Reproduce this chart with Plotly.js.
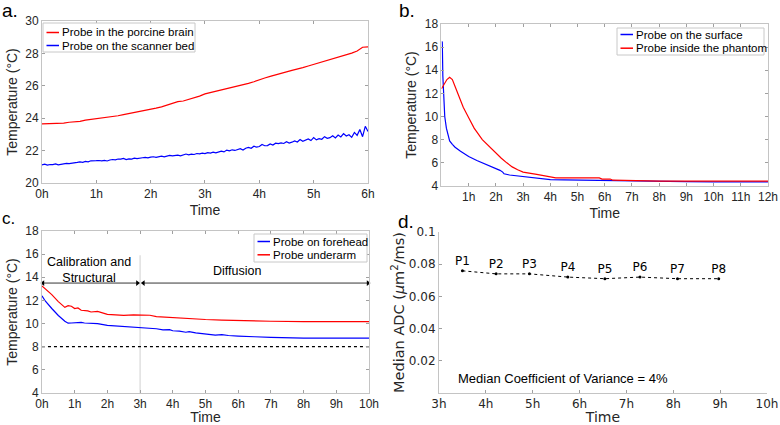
<!DOCTYPE html>
<html><head><meta charset="utf-8">
<script src="https://cdn.plot.ly/plotly-3.0.1.min.js"></script>
<style>html,body{margin:0;padding:0;background:#fff}#chart{width:780px;height:425px}</style>
</head><body><div id="chart"></div>
<script>
// ---------- Panel a ----------
const aBrainTime = [0,0.1,0.2,0.3,0.4,0.5,0.6,0.7,0.8,0.9,1.0,1.1,1.2,1.3,1.4,1.5,1.6,1.7,1.8,1.9,2.0,2.1,2.2,2.3,2.4,2.5,2.6,2.7,2.8,2.9,3.0,3.1,3.2,3.3,3.4,3.5,3.6,3.7,3.8,3.9,4.0,4.1,4.2,4.3,4.4,4.5,4.6,4.7,4.8,4.9,5.0,5.1,5.2,5.3,5.4,5.5,5.6,5.7,5.8,5.9,6.0];
const aBrainTemp = [23.65,23.66,23.65,23.68,23.70,23.75,23.78,23.80,23.88,23.92,23.97,24.00,24.05,24.12,24.15,24.22,24.28,24.35,24.42,24.50,24.56,24.62,24.70,24.80,24.90,25.02,25.06,25.15,25.28,25.36,25.50,25.58,25.66,25.72,25.82,25.90,25.98,26.06,26.15,26.25,26.38,26.48,26.58,26.66,26.76,26.86,26.95,27.02,27.12,27.22,27.32,27.42,27.52,27.62,27.72,27.80,27.92,28.02,28.15,28.38,28.40];
const aBedTime = [0,0.05,0.1,0.15,0.2,0.25,0.3,0.35,0.4,0.45,0.5,0.55,0.6,0.65,0.7,0.75,0.8,0.85,0.9,0.95,1.0,1.05,1.1,1.15,1.2,1.25,1.3,1.35,1.4,1.45,1.5,1.55,1.6,1.65,1.7,1.75,1.8,1.85,1.9,1.95,2.0,2.05,2.1,2.15,2.2,2.25,2.3,2.35,2.4,2.45,2.5,2.55,2.6,2.65,2.7,2.75,2.8,2.85,2.9,2.95,3.0,3.05,3.1,3.15,3.2,3.25,3.3,3.35,3.4,3.45,3.5,3.55,3.6,3.65,3.7,3.75,3.8,3.85,3.9,3.95,4.0,4.05,4.1,4.15,4.2,4.25,4.3,4.35,4.4,4.45,4.5,4.55,4.6,4.65,4.7,4.75,4.8,4.85,4.9,4.95,5.0,5.05,5.1,5.15,5.2,5.25,5.3,5.35,5.4,5.45,5.5,5.55,5.6,5.65,5.7,5.75,5.8,5.85,5.9,5.95,6.0];
const aBedTemp = [21.12,21.16,21.10,21.14,21.13,21.18,21.12,21.15,21.19,21.21,21.20,21.22,21.21,21.27,21.30,21.28,21.33,21.31,21.37,21.36,
  21.38,21.39,21.37,21.40,21.36,21.42,21.45,21.43,21.48,21.47,21.52,21.45,21.49,21.48,21.53,21.50,21.51,21.56,21.58,21.55,
  21.60,21.62,21.58,21.63,21.66,21.61,21.65,21.70,21.67,21.69,21.72,21.68,21.75,21.79,21.74,21.78,21.76,21.82,21.80,21.84,
  21.81,21.87,21.85,21.90,21.86,21.93,21.97,21.92,22.03,21.98,22.05,22.01,22.06,22.12,22.04,22.15,22.20,22.14,22.27,22.22,
  22.25,22.38,22.30,22.31,22.41,22.34,22.46,22.43,22.48,22.44,22.55,22.47,22.52,22.60,22.53,22.68,22.58,22.64,22.72,22.62,
  22.80,22.66,22.74,22.70,22.86,22.76,22.80,22.92,22.78,22.96,22.84,23.05,22.90,22.98,22.82,23.12,22.94,23.30,22.86,23.50,
  23.18];
const aTickVals = [0,1,2,3,4,5,6];
const aTickText = ['0h','1h','2h','3h','4h','5h','6h'];
const aYTicks = [20,22,24,26,28,30];

// ---------- Panel b ----------
const bSurfTime = [0.02,0.03,0.05,0.08,0.12,0.18,0.25,0.3,0.4,0.5,0.7,1.0,1.3,1.5,1.8,2.0,2.15,2.25,2.3,2.5,3.0,3.5,4.0,4.5,5.0,6.0,7.0,8.0,9.0,10.0,11.0,12.0];
const bSurfTemp = [16.5,16.4,13.5,11.5,10.0,9.0,8.3,7.9,7.6,7.35,7.0,6.55,6.2,6.0,5.75,5.55,5.35,5.2,5.05,4.95,4.8,4.68,4.55,4.52,4.5,4.45,4.4,4.38,4.37,4.36,4.36,4.35];
const bInTime = [0,0.05,0.1,0.2,0.3,0.4,0.5,0.6,0.7,0.8,1.0,1.2,1.5,1.8,2.0,2.2,2.4,2.6,2.8,3.0,3.5,4.0,4.2,5.0,5.8,5.9,6.2,6.3,7.0,8.0,10.0,12.0];
const bInTemp = [12.4,12.6,12.9,13.2,13.4,13.2,12.6,12.0,11.3,10.8,9.9,9.0,8.0,7.3,6.8,6.4,6.0,5.65,5.4,5.2,5.0,4.8,4.7,4.7,4.7,4.6,4.6,4.5,4.45,4.42,4.42,4.42];
const bTickVals = [1,2,3,4,5,6,7,8,9,10,11,12];
const bTickText = ['1h','2h','3h','4h','5h','6h','7h','8h','9h','10h','11h','12h'];

// ---------- Panel c ----------
const cHeadTime = [0,0.1,0.3,0.5,0.7,0.8,0.9,1.0,1.2,1.3,1.5,1.7,2.0,2.3,2.5,2.8,3.0,3.3,3.5,3.7,3.9,4.0,4.2,4.4,4.5,4.7,4.9,5.0,5.3,5.5,5.7,6.0,6.2,6.5,7.0,7.2,7.5,8.0,9.0,10.0];
const cHeadTemp = [12.4,11.95,11.3,10.7,10.2,10.03,10.05,10.08,10.1,10.05,10.02,10.0,9.85,9.8,9.76,9.72,9.66,9.62,9.55,9.45,9.48,9.38,9.35,9.25,9.3,9.2,9.15,9.1,9.0,9.05,8.97,8.92,8.88,8.86,8.8,8.78,8.76,8.74,8.74,8.74];
const cArmTime = [0,0.1,0.3,0.5,0.7,0.8,0.9,1.0,1.1,1.2,1.4,1.5,1.7,2.0,2.2,2.5,2.8,3.0,3.3,3.5,4.0,4.3,4.5,5.0,5.5,6.0,6.5,7.0,8.0,10.0];
const cArmTemp = [13.25,13.0,12.5,11.9,11.4,11.55,11.5,11.3,11.35,11.15,11.1,11.0,11.05,10.8,10.78,10.7,10.75,10.75,10.72,10.6,10.52,10.45,10.38,10.35,10.3,10.25,10.22,10.2,10.17,10.16];
const cRefTime = [0,10];
const cRefTemp = [8,8];
const cPhaseSplitTime = [3,3];
const cPhaseSplitTemp = [4,15.9];
const cCalibSpan = [0.03,2.92];
const cDiffSpan = [3.1,9.97];
const cSpanTemp = [13.5,13.5];
const cTickVals = [0,1,2,3,4,5,6,7,8,9,10];
const cTickText = ['0h','1h','2h','3h','4h','5h','6h','7h','8h','9h','10h'];

// ---------- Panel d ----------
const dTime = [3.5,4.22,4.93,5.75,6.54,7.29,8.09,8.97];
const dADC = [0.0759,0.0740,0.0740,0.0720,0.0710,0.0720,0.0710,0.0710];
const dLabels = ['P1','P2','P3','P4','P5','P6','P7','P8'];
const dTickVals = [3,4,5,6,7,8,9,10];
const dTickText = ['3h','4h','5h','6h','7h','8h','9h','10h'];
const dYTickVals = [0.02,0.04,0.06,0.08,0.1];
const dYTickText = ['0.02','0.04','0.06','0.08','0.1'];

const tempTicks = [4,6,8,10,12,14,16,18];

const RED = '#ff0000', BLUE = '#0000ff';
const FONT = 'Arial, "Liberation Sans", sans-serif';
const DJV = '"DejaVu Sans", sans-serif';
const TXT = '#262626';
const AXC = '#c4c4c4';
const W = 780, H = 425;

function ax(domain, range, tv, tt, title, opts) {
  return Object.assign({
    domain: domain, range: range, tickmode: 'array', tickvals: tv, ticktext: tt,
    showline: true, linecolor: AXC, linewidth: 1, mirror: 'ticks',
    ticks: 'inside', ticklen: 3, tickcolor: '#a0a0a0', showgrid: false, zeroline: false,
    tickfont: {family: FONT, size: 12, color: TXT},
    title: {text: title, font: {family: FONT, size: 14, color: TXT}, standoff: 4},
    fixedrange: true
  }, opts || {});
}

const traces = [
  {x: aBrainTime, y: aBrainTemp, type: 'scatter', mode: 'lines', name: 'Probe in the porcine brain', line: {color: RED, width: 1.2}, xaxis: 'x', yaxis: 'y', showlegend: false},
  {x: aBedTime, y: aBedTemp, type: 'scatter', mode: 'lines', name: 'Probe on the scanner bed', line: {color: BLUE, width: 1.2}, xaxis: 'x', yaxis: 'y', showlegend: false},
  {x: bSurfTime, y: bSurfTemp, type: 'scatter', mode: 'lines', name: 'Probe on the surface', line: {color: BLUE, width: 1.2}, xaxis: 'x2', yaxis: 'y2', showlegend: false},
  {x: bInTime, y: bInTemp, type: 'scatter', mode: 'lines', name: 'Probe inside the phantom', line: {color: RED, width: 1.2}, xaxis: 'x2', yaxis: 'y2', showlegend: false},
  {x: cPhaseSplitTime, y: cPhaseSplitTemp, type: 'scatter', mode: 'lines', showlegend: false, line: {color: '#d0d0d0', width: 1}, xaxis: 'x3', yaxis: 'y3'},
  {x: cRefTime, y: cRefTemp, type: 'scatter', mode: 'lines', showlegend: false, line: {color: '#000', width: 1.2, dash: 'dot'}, xaxis: 'x3', yaxis: 'y3'},
  {x: cCalibSpan, y: cSpanTemp, type: 'scatter', mode: 'lines+markers', showlegend: false, line: {color: '#000', width: 0.8},
   marker: {symbol: ['triangle-left','triangle-right'], size: 5, color: '#000'}, xaxis: 'x3', yaxis: 'y3', cliponaxis: false},
  {x: cDiffSpan, y: cSpanTemp, type: 'scatter', mode: 'lines+markers', showlegend: false, line: {color: '#000', width: 0.8},
   marker: {symbol: ['triangle-left','triangle-right'], size: 5, color: '#000'}, xaxis: 'x3', yaxis: 'y3', cliponaxis: false},
  {x: cHeadTime, y: cHeadTemp, type: 'scatter', mode: 'lines', name: 'Probe on forehead', line: {color: BLUE, width: 1.2}, xaxis: 'x3', yaxis: 'y3', showlegend: false},
  {x: cArmTime, y: cArmTemp, type: 'scatter', mode: 'lines', name: 'Probe underarm', line: {color: RED, width: 1.2}, xaxis: 'x3', yaxis: 'y3', showlegend: false},
  {x: dTime, y: dADC, text: dLabels, type: 'scatter', mode: 'lines+markers+text', textposition: 'top center', showlegend: false,
   textfont: {family: DJV, size: 12, color: '#000'},
   line: {color: '#000', width: 1, dash: 'dot'}, marker: {color: '#000', size: 3}, xaxis: 'x4', yaxis: 'y4'}
];

// Legend boxes drawn as shapes + text (pixel positions of the figure)
const shapes = [];
const annotations = [];
function legendBox(x0, y0, x1, y1, rows) {
  shapes.push({type: 'rect', xref: 'paper', yref: 'paper', x0: x0/W, x1: x1/W, y0: 1-y1/H, y1: 1-y0/H,
    line: {color: '#c8c8c8', width: 1}, fillcolor: '#fff', layer: 'above'});
  rows.forEach(r => {
    shapes.push({type: 'line', xref: 'paper', yref: 'paper', x0: (x0+3.5)/W, x1: (x0+16)/W, y0: 1-r.y/H, y1: 1-r.y/H,
      line: {color: r.color, width: 1.5}, layer: 'above'});
    annotations.push({text: r.name, xref: 'paper', yref: 'paper', x: (x0+17)/W, y: 1-r.y/H, xanchor: 'left', yanchor: 'middle',
      showarrow: false, font: {family: FONT, size: 11.5, color: '#000'}});
  });
}
legendBox(43, 23, 195, 52, [{y: 32.5, color: RED, name: traces[0].name}, {y: 45.5, color: BLUE, name: traces[1].name}]);
legendBox(617, 28, 764, 55, [{y: 34.5, color: BLUE, name: traces[2].name}, {y: 48.2, color: RED, name: traces[3].name}]);
legendBox(254, 234, 367, 262, [{y: 241.5, color: BLUE, name: traces[8].name}, {y: 254.8, color: RED, name: traces[9].name}]);

annotations.push(
  {text: 'a.', xref: 'paper', yref: 'paper', x: 0.0, y: 1 - 10/H, xanchor: 'left', yanchor: 'middle', showarrow: false, font: {family: FONT, size: 19, color: '#000'}},
  {text: 'b.', xref: 'paper', yref: 'paper', x: 397/W, y: 1 - 10/H, xanchor: 'left', yanchor: 'middle', showarrow: false, font: {family: FONT, size: 19, color: '#000'}},
  {text: 'c.', xref: 'paper', yref: 'paper', x: 0.0, y: 1 - 218/H, xanchor: 'left', yanchor: 'middle', showarrow: false, font: {family: FONT, size: 17, color: '#000'}},
  {text: 'd.', xref: 'paper', yref: 'paper', x: 396/W, y: 1 - 221/H, xanchor: 'left', yanchor: 'middle', showarrow: false, font: {family: FONT, size: 19, color: '#000'}},
  {text: 'Calibration and<br>Structural', xref: 'x3', yref: 'y3', x: 1.44, y: 14.6, showarrow: false, font: {family: FONT, size: 12.5, color: '#000'}, align: 'center'},
  {text: 'Diffusion', xref: 'x3', yref: 'y3', x: 5.96, y: 14.5, showarrow: false, font: {family: FONT, size: 12.5, color: '#000'}},
  {text: 'Median Coefficient of Variance = 4%', xref: 'x4', yref: 'y4', x: 3.36, y: 0.0093, xanchor: 'left', yanchor: 'middle', showarrow: false, font: {family: FONT, size: 13, color: '#000'}}
);

const layout = {
  width: W, height: H, margin: {l: 0, r: 0, t: 0, b: 0},
  paper_bgcolor: '#fff', plot_bgcolor: '#fff', showlegend: false,
  xaxis: ax([0.0538, 0.4718], [0, 6], aTickVals, aTickText, 'Time', {anchor: 'y'}),
  yaxis: ax([0.5694, 0.9506], [20, 30], aYTicks, aYTicks.map(String), 'Temperature (°C)', {anchor: 'x'}),
  xaxis2: ax([0.566, 0.9846], [0, 12], bTickVals, bTickText, 'Time', {anchor: 'y2'}),
  yaxis2: ax([0.5624, 0.9435], [4, 18], tempTicks, tempTicks.map(String), 'Temperature (°C)', {anchor: 'x2'}),
  xaxis3: ax([0.0538, 0.4731], [0, 10], cTickVals, cTickText, 'Time', {anchor: 'y3',
    title: {text: 'Time', font: {family: FONT, size: 14, color: TXT}, standoff: 5}}),
  yaxis3: ax([0.0753, 0.4565], [4, 18], tempTicks, tempTicks.map(String), 'Temperature (°C)', {anchor: 'x3'}),
  xaxis4: ax([0.5628, 0.9833], [3, 10], dTickVals, dTickText, 'Time', {anchor: 'y4', mirror: false,
    tickfont: {family: DJV, size: 12, color: TXT}, title: {text: 'Time', font: {family: DJV, size: 14, color: TXT}, standoff: 4}}),
  yaxis4: ax([0.0753, 0.4541], [0, 0.1], dYTickVals, dYTickText, 'Median ADC', {anchor: 'x4', mirror: false,
    tickfont: {family: DJV, size: 12, color: TXT}, title: {text: 'Median ADC (<i>μ</i>m<sup>2</sup>/ms)', font: {family: DJV, size: 14.5, color: TXT}, standoff: 0}}),
  shapes: shapes,
  annotations: annotations
};

Plotly.newPlot('chart', traces, layout, {displayModeBar: false, staticPlot: true});
</script>
</body></html>
